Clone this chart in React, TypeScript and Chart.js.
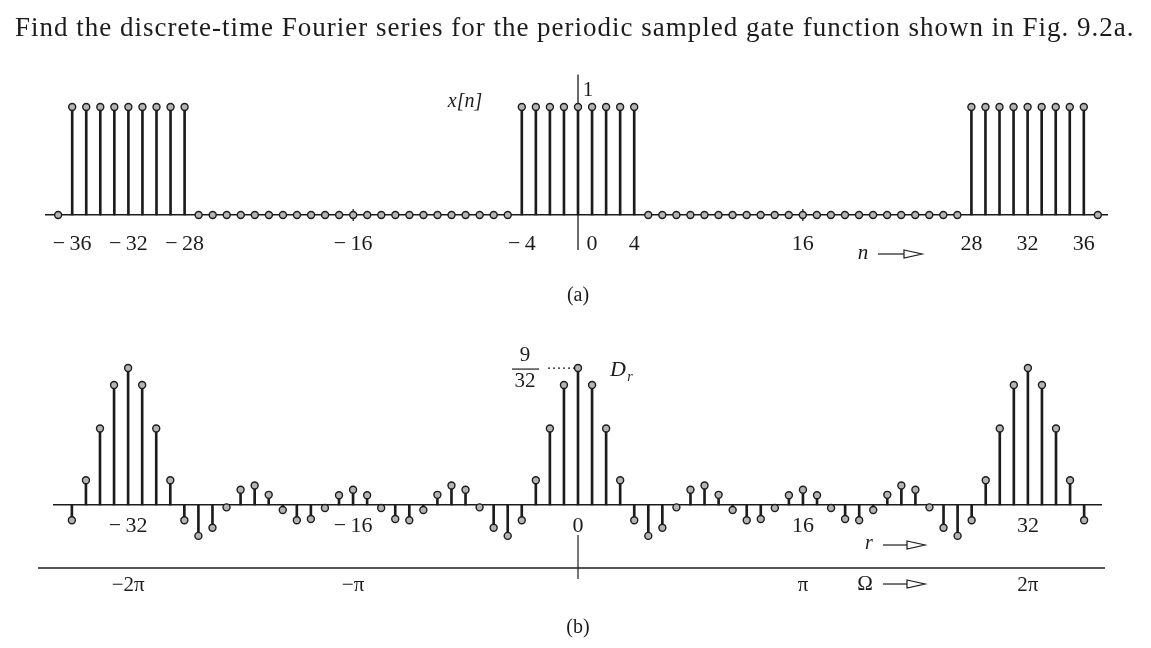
import React, { useEffect, useRef } from "react";
import { Chart, registerables } from "chart.js";
Chart.register(...registerables);

// ---- data (a): periodic sampled gate x[n] ----
const nValues = [
  -37, -36, -35, -34, -33, -32, -31, -30, -29, -28, -27, -26, -25, -24, -23, -22, -21, -20, -19,
  -18, -17, -16, -15, -14, -13, -12, -11, -10, -9, -8, -7, -6, -5, -4, -3, -2, -1, 0, 1, 2, 3, 4,
  5, 6, 7, 8, 9, 10, 11, 12, 13, 14, 15, 16, 17, 18, 19, 20, 21, 22, 23, 24, 25, 26, 27, 28, 29,
  30, 31, 32, 33, 34, 35, 36, 37,
];
const xValues = [
  0, 1, 1, 1, 1, 1, 1, 1, 1, 1, 0, 0, 0, 0, 0, 0, 0, 0, 0,
  0, 0, 0, 0, 0, 0, 0, 0, 0, 0, 0, 0, 0, 0, 1, 1, 1, 1, 1, 1, 1, 1, 1,
  0, 0, 0, 0, 0, 0, 0, 0, 0, 0, 0, 0, 0, 0, 0, 0, 0, 0, 0, 0, 0, 0, 0, 1, 1,
  1, 1, 1, 1, 1, 1, 1, 0,
];
const nTickLabels = [-36, -32, -28, -16, -4, 0, 4, 16, 28, 32, 36];

// ---- data (b): Fourier coefficients D_r ----
const rValues = [
  -36, -35, -34, -33, -32, -31, -30, -29, -28, -27, -26, -25, -24, -23, -22, -21, -20, -19, -18,
  -17, -16, -15, -14, -13, -12, -11, -10, -9, -8, -7, -6, -5, -4, -3, -2, -1, 0, 1, 2, 3, 4, 5,
  6, 7, 8, 9, 10, 11, 12, 13, 14, 15, 16, 17, 18, 19, 20, 21, 22, 23, 24, 25, 26, 27, 28, 29, 30,
  31, 32, 33, 34, 35, 36,
];
const dValues = [
  -0.03125, 0.0507, 0.1571, 0.2464, 0.28125, 0.2464, 0.1571, 0.0507, -0.03125, -0.0634, -0.0468,
  -0.0048, 0.03125, 0.0402, 0.0209, -0.0103, -0.03125, -0.0288, -0.0062, 0.0199, 0.03125, 0.0199,
  -0.0062, -0.0288, -0.03125, -0.0103, 0.0209, 0.0402, 0.03125, -0.0048, -0.0468, -0.0634,
  -0.03125, 0.0507, 0.1571, 0.2464, 0.28125, 0.2464, 0.1571, 0.0507, -0.03125, -0.0634, -0.0468,
  -0.0048, 0.03125, 0.0402, 0.0209, -0.0103, -0.03125, -0.0288, -0.0062, 0.0199, 0.03125, 0.0199,
  -0.0062, -0.0288, -0.03125, -0.0103, 0.0209, 0.0402, 0.03125, -0.0048, -0.0468, -0.0634,
  -0.03125, 0.0507, 0.1571, 0.2464, 0.28125, 0.2464, 0.1571, 0.0507, -0.03125,
];
const rTickLabels = [-32, -16, 0, 16, 32];
const omegaTickR = [-32, -16, 16, 32];
const omegaTickLabels = ["−2π", "−π", "π", "2π"];

const SERIF = "'Liberation Serif', 'Times New Roman', serif";
const INK = "#1c1c1c";
const DOT_FILL = "#b4b4b4";
const TICK_SIZE = 22;

function minusLabel(v: number): string {
  return v < 0 ? "−\u2009" + Math.abs(v) : String(v);
}

function text(ctx: CanvasRenderingContext2D, s: string, x: number, y: number, size: number, italic = false, align: CanvasTextAlign = "center") {
  ctx.save();
  ctx.fillStyle = INK;
  ctx.font = `${italic ? "italic " : ""}${size}px ${SERIF}`;
  ctx.textAlign = align;
  ctx.textBaseline = "middle";
  ctx.fillText(s, x, y);
  ctx.restore();
}

function drawArrow(ctx: CanvasRenderingContext2D, x0: number, x1: number, y: number) {
  ctx.save();
  ctx.strokeStyle = INK;
  ctx.lineWidth = 1.2;
  ctx.beginPath();
  ctx.moveTo(x0, y);
  ctx.lineTo(x1 - 14, y);
  ctx.stroke();
  ctx.beginPath();
  ctx.moveTo(x1 - 18, y - 4);
  ctx.lineTo(x1, y);
  ctx.lineTo(x1 - 18, y + 4);
  ctx.closePath();
  ctx.fillStyle = "#fff";
  ctx.fill();
  ctx.stroke();
  ctx.restore();
}

const topDecor = {
  id: "topDecor",
  beforeDatasetsDraw(chart: any) {
    const { ctx, scales } = chart;
    const xs = scales.x, ys = scales.y;
    const x0 = xs.getPixelForValue(0);
    const base = ys.getPixelForValue(0);
    ctx.save();
    ctx.strokeStyle = INK;
    ctx.lineWidth = 1.3;
    ctx.beginPath();
    ctx.moveTo(x0, ys.getPixelForValue(1.3));
    ctx.lineTo(x0, base + 35);
    for (const v of [-16, 16]) {
      const px = xs.getPixelForValue(v);
      ctx.moveTo(px, base - 6);
      ctx.lineTo(px, base + 6);
    }
    ctx.stroke();
    ctx.restore();
  },
  afterDraw(chart: any) {
    const { ctx, scales } = chart;
    const xs = scales.x, ys = scales.y;
    const x0 = xs.getPixelForValue(0);
    const base = ys.getPixelForValue(0);
    text(ctx, "0", x0 + 14, base + 29, TICK_SIZE);
    text(ctx, "1", x0 + 10, ys.getPixelForValue(1) - 17, 21);
    text(ctx, "x[n]", x0 - 113, ys.getPixelForValue(1) - 5, 20, true);
    text(ctx, "n", 863, base + 38, 21, true);
    drawArrow(ctx, 878, 922, base + 39);
    text(ctx, "(a)", x0, base + 81, 20);
  },
};

const bottomDecor = {
  id: "bottomDecor",
  beforeDatasetsDraw(chart: any) {
    const { ctx, scales } = chart;
    const xs = scales.x, ys = scales.y;
    const x0 = xs.getPixelForValue(0);
    const base = ys.getPixelForValue(0);
    const top = ys.getPixelForValue(dValues[rValues.indexOf(0)]);
    ctx.save();
    ctx.strokeStyle = INK;
    ctx.lineWidth = 1.2;
    ctx.beginPath();
    ctx.moveTo(x0, base + 30);
    ctx.lineTo(x0, base + 74);
    ctx.stroke();
    ctx.lineWidth = 1.4;
    ctx.beginPath();
    ctx.moveTo(38, base + 63);
    ctx.lineTo(1105, base + 63);
    ctx.stroke();
    ctx.lineWidth = 1.3;
    ctx.setLineDash([2, 3]);
    ctx.beginPath();
    ctx.moveTo(x0 - 30, top);
    ctx.lineTo(x0 - 4, top);
    ctx.stroke();
    ctx.restore();
  },
  afterDraw(chart: any) {
    const { ctx, scales } = chart;
    const xs = scales.x, ys = scales.y;
    const x0 = xs.getPixelForValue(0);
    const base = ys.getPixelForValue(0);
    const top = ys.getPixelForValue(dValues[rValues.indexOf(0)]);
    text(ctx, "9", x0 - 53, top - 13, 21);
    ctx.save();
    ctx.strokeStyle = INK;
    ctx.lineWidth = 1.2;
    ctx.beginPath();
    ctx.moveTo(x0 - 66, top + 1);
    ctx.lineTo(x0 - 39, top + 1);
    ctx.stroke();
    ctx.restore();
    text(ctx, "32", x0 - 53, top + 13, 21);
    text(ctx, "D", 618, top + 2, 22, true);
    text(ctx, "r", 630, top + 9, 14, true);
    omegaTickR.forEach((r, i) => {
      text(ctx, omegaTickLabels[i], xs.getPixelForValue(r), base + 80, 21);
    });
    text(ctx, "r", 869, base + 39, 20, true);
    drawArrow(ctx, 883, 925, base + 40);
    text(ctx, "Ω", 865, base + 79, 21);
    drawArrow(ctx, 883, 925, base + 79);
    text(ctx, "(b)", x0, base + 123, 20);
  },
};

function stemChart(
  canvas: HTMLCanvasElement,
  xs: number[],
  ys: number[],
  ticks: number[],
  opts: { xmin: number; xmax: number; ymin: number; ymax: number; pad: any; tickPad: number; hideZero: boolean },
  plugin: any
) {
  const pts = xs.map((x, i) => ({ x, y: ys[i] }));
  return new Chart(canvas, {
    type: "bar",
    data: {
      datasets: [
        {
          type: "line",
          data: pts,
          showLine: false,
          pointRadius: 3.5,
          pointBorderWidth: 1.4,
          pointBackgroundColor: DOT_FILL,
          pointBorderColor: INK,
          clip: false,
          order: 0,
        } as any,
        {
          type: "bar",
          data: pts,
          barThickness: 2,
          backgroundColor: INK,
          borderWidth: 0,
          clip: false,
          order: 1,
        } as any,
      ],
    },
    options: {
      animation: false,
      responsive: false,
      maintainAspectRatio: false,
      events: [],
      layout: { padding: opts.pad },
      plugins: { legend: { display: false }, tooltip: { enabled: false } },
      scales: {
        x: {
          type: "linear",
          position: { y: 0 },
          min: opts.xmin,
          max: opts.xmax,
          offset: false,
          grid: { display: false, drawTicks: false },
          border: { display: true, color: INK, width: 1.5 },
          afterBuildTicks: (ax: any) => {
            ax.ticks = ticks.map((v) => ({ value: v }));
          },
          ticks: {
            autoSkip: false,
            maxRotation: 0,
            minRotation: 0,
            padding: opts.tickPad,
            color: INK,
            font: { family: SERIF, size: TICK_SIZE },
            callback: (v: any) => (opts.hideZero && Number(v) === 0 ? "" : minusLabel(Number(v))),
          },
        },
        y: { display: false, min: opts.ymin, max: opts.ymax },
      },
    } as any,
    plugins: [plugin],
  });
}

export default function App() {
  const topRef = useRef<HTMLCanvasElement>(null);
  const botRef = useRef<HTMLCanvasElement>(null);

  useEffect(() => {
    const c1 = stemChart(
      topRef.current!,
      nValues,
      xValues,
      nTickLabels,
      { xmin: -37.9, xmax: 37.7, ymin: -0.1, ymax: 1.3, pad: { left: 45.5, right: 43.3, top: 74.6, bottom: 94.2 }, tickPad: 15.8, hideZero: true },
      topDecor
    );
    const c2 = stemChart(
      botRef.current!,
      rValues,
      dValues,
      rTickLabels,
      { xmin: -37.3, xmax: 37.2, ymin: -0.1, ymax: 0.32, pad: { left: 53.6, right: 50, top: 29.2, bottom: 94.3 }, tickPad: 7.8, hideZero: false },
      bottomDecor
    );
    return () => {
      c1.destroy();
      c2.destroy();
    };
  }, []);

  return (
    <div style={{ position: "absolute", left: 0, top: 0, width: 1151, height: 648, background: "#fff", overflow: "hidden" }}>
      <canvas ref={topRef} width={1151} height={320} style={{ position: "absolute", left: 0, top: 0, width: 1151, height: 320 }} />
      <canvas ref={botRef} width={1151} height={328} style={{ position: "absolute", left: 0, top: 320, width: 1151, height: 328 }} />
      <div
        style={{
          position: "absolute",
          left: 15,
          top: 12,
          fontFamily: SERIF,
          fontSize: 27,
          letterSpacing: "1px",
          color: INK,
          whiteSpace: "nowrap",
          lineHeight: "30px",
        }}
      >
        Find the discrete-time Fourier series for the periodic sampled gate function shown in Fig. 9.2a.
      </div>
    </div>
  );
}
